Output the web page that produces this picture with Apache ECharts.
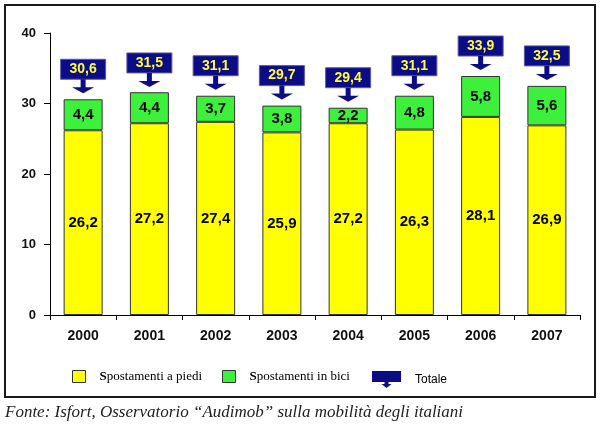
<!DOCTYPE html>
<html><head><meta charset="utf-8">
<script src="https://cdn.jsdelivr.net/npm/echarts@6/dist/echarts.min.js"></script>
<style>html,body{margin:0;padding:0;background:#fff}#c{width:601px;height:438px}</style>
</head><body><div id="c"></div>
<script>
const anni = ['2000','2001','2002','2003','2004','2005','2006','2007'];
const piedi = [26.2, 27.2, 27.4, 25.9, 27.2, 26.3, 28.1, 26.9];
const bici = [4.4, 4.4, 3.7, 3.8, 2.2, 4.8, 5.8, 5.6];
const totale = [30.6, 31.5, 31.1, 29.7, 29.4, 31.1, 33.9, 32.5];
const yTicks = [0, 10, 20, 30, 40];
const nomi = ['Spostamenti a piedi', 'Spostamenti in bici', 'Totale'];
const fonte = 'Fonte: Isfort, Osservatorio \u201cAudimob\u201d sulla mobilit\u00e0 degli italiani';

const fmt = v => Number(v).toFixed(1).replace('.', ',');
const NAVY = '#0c0c86';

const chart = echarts.init(document.getElementById('c'), null, {renderer: 'canvas'});
const legendText = {fontFamily: '"Liberation Serif", serif', fontSize: 13, color: '#000',
  rich: {b: {fontFamily: '"Liberation Serif", serif', fontSize: 13, fontWeight: 'bold', color: '#000'},
         n: {fontFamily: '"Liberation Serif", serif', fontSize: 13, color: '#000'}}};
chart.setOption({
  animation: false,
  grid: {left: 50, right: 21, top: 33, bottom: 123, containLabel: false},
  graphic: [
    {type: 'rect', shape: {x: 5, y: 5, width: 590, height: 392}, style: {fill: 'none', stroke: '#1a1a1a', lineWidth: 2}, z: -1},
    {type: 'text', left: 5, top: 404, style: {text: fonte, font: 'italic 17px "Liberation Serif", serif', fill: '#222'}}
  ],
  legend: [
    {data: [{name: nomi[0], icon: 'rect'}], left: 72, top: 370, padding: 0, itemWidth: 13, itemHeight: 12,
     itemStyle: {borderColor: '#333', borderWidth: 1},
     textStyle: Object.assign({padding: [0, 0, 0, 9]}, legendText),
     formatter: n => '{b|' + n[0] + '}{n|' + n.slice(1) + '}', selectedMode: false},
    {data: [{name: nomi[1], icon: 'rect'}], left: 222, top: 370, padding: 0, itemWidth: 13, itemHeight: 12,
     itemStyle: {borderColor: '#333', borderWidth: 1},
     textStyle: Object.assign({padding: [0, 0, 0, 9]}, legendText),
     formatter: n => '{b|' + n[0] + '}{n|' + n.slice(1) + '}', selectedMode: false},
    {data: [{name: nomi[2], icon: 'path://M0,0 H29 V11 H16.5 V13 H19.5 L14.5,17 L9.5,13 H12.5 V11 H0 Z'}],
     left: 372, top: 371, padding: 0, itemWidth: 29, itemHeight: 17,
     textStyle: {fontFamily: 'Arial, "Liberation Sans", sans-serif', fontSize: 12, color: '#000', padding: [0, 0, 5, 9]},
     selectedMode: false}
  ],
  xAxis: {
    type: 'category', data: anni,
    axisLine: {lineStyle: {color: '#000', width: 1}},
    axisTick: {show: true, length: 5, lineStyle: {color: '#000'}},
    axisLabel: {margin: 14, fontFamily: 'Arial, "Liberation Sans", sans-serif', fontWeight: 'bold', fontSize: 14, color: '#111'}
  },
  yAxis: {
    type: 'value', min: yTicks[0], max: yTicks[yTicks.length - 1], interval: 10,
    splitLine: {show: false},
    axisLine: {show: true, lineStyle: {color: '#000', width: 1}},
    axisTick: {show: true, length: 6, lineStyle: {color: '#000'}},
    axisLabel: {margin: 14, fontFamily: 'Arial, "Liberation Sans", sans-serif', fontWeight: 'bold', fontSize: 13, color: '#111'}
  },
  series: [
    {name: nomi[0], type: 'bar', stack: 'tot', data: piedi, barWidth: 39,
     itemStyle: {color: '#ffff00', borderColor: '#333', borderWidth: 1},
     label: {show: true, position: 'inside', formatter: p => fmt(p.value),
             fontFamily: 'Arial, "Liberation Sans", sans-serif', fontWeight: 'bold', fontSize: 15, color: '#000'}},
    {name: nomi[1], type: 'bar', stack: 'tot', data: bici, barWidth: 39,
     itemStyle: {color: '#3cf03c', borderColor: '#333', borderWidth: 1},
     label: {show: true, position: 'inside', formatter: p => fmt(p.value),
             fontFamily: 'Arial, "Liberation Sans", sans-serif', fontWeight: 'bold', fontSize: 15, color: '#000'}},
    {name: nomi[2], type: 'custom', data: totale.map((v, i) => [i, v]),
     itemStyle: {color: NAVY},
     encode: {x: 0, y: 1},
     renderItem: function (params, api) {
       const pt = api.coord([api.value(0), api.value(1)]);
       const x = pt[0], y = pt[1];
       return {type: 'group', children: [
         {type: 'rect', shape: {x: x - 22.5, y: y - 40, width: 45, height: 20},
          style: {fill: NAVY, stroke: '#5a5aa8', lineWidth: 1}},
         {type: 'polygon', shape: {points: [
            [x - 2.5, y - 20], [x + 2.5, y - 20], [x + 2.5, y - 12], [x + 11, y - 12],
            [x, y - 6], [x - 11, y - 12], [x - 2.5, y - 12]]},
          style: {fill: NAVY}},
         {type: 'text', style: {text: fmt(api.value(1)), x: x, y: y - 30, align: 'center', verticalAlign: 'middle',
          font: 'bold 14px Arial, "Liberation Sans", sans-serif', fill: '#ffff33'}}
       ]};
     }}
  ]
});
</script></body></html>
